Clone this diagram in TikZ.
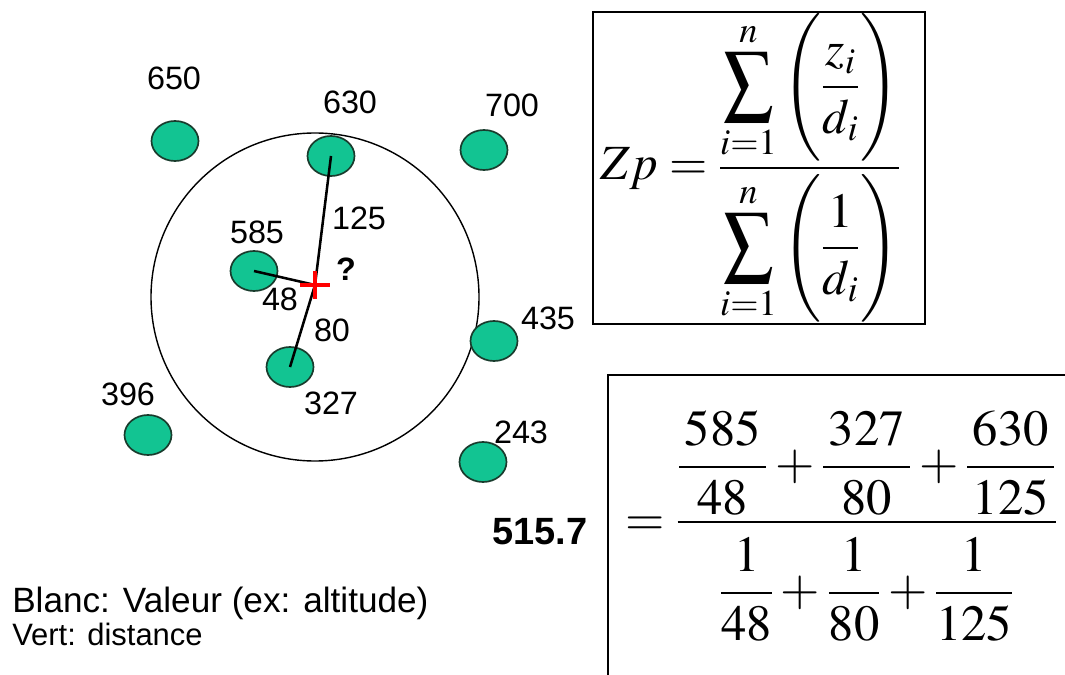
\documentclass[tikz,border=0pt]{standalone}
\usepackage{amsmath}
\usepackage{graphicx}
\usepackage{mathptmx}
\usepackage[no-math]{fontspec}
\setmainfont{Liberation Serif}
\setsansfont{Liberation Sans}
\usepackage{tikz}
\usetikzlibrary{shapes.geometric}

\definecolor{ptvert}{RGB}{18,196,146}
\definecolor{ptbord}{RGB}{25,60,45}

\newcommand{\grsum}{\mathop{\vcenter{\hbox{\scalebox{1}[1.15]{$\displaystyle\sum$}}}}\limits_{i=1}^{n}}
\newcommand{\pfrac}[2]{\dfrac{\mkern2mu#1\mkern2mu}{#2}}

\tikzset{
  pt/.style={ellipse,draw=ptbord,line width=1.2pt,fill=ptvert,minimum width=47*0.025cm,minimum height=40*0.025cm,inner sep=0pt},
  val/.style={font=\fontsize{23}{26}\selectfont\sffamily,inner sep=0pt},
  seg/.style={line width=1.8pt},
}

\begin{document}
\begin{tikzpicture}[x=0.025cm,y=-0.025cm]
  \useasboundingbox (0,0) rectangle (1065,675);
  % zone de recherche
  \draw[line width=1pt] (315,297) circle (164);
  % points connus
  \node[pt] (p650) at (175,141) {};
  \node[pt] (p630) at (331,156) {};
  \node[pt] (p700) at (484,150) {};
  \node[pt] (p585) at (254,271) {};
  \node[pt] (p435) at (494,341) {};
  \node[pt] (p327) at (290,367) {};
  \node[pt] (p396) at (148,435) {};
  \node[pt] (p243) at (483,462) {};
  \node[val] at (174,78) {650};
  \node[val] at (350,102) {630};
  \node[val] at (512,105) {700};
  \node[val] at (257,232) {585};
  \node[val] at (548,318) {435};
  \node[val] at (331,403) {327};
  \node[val] at (128,394) {396};
  \node[val] at (521,432) {243};
  % point inconnu
  \coordinate (q) at (315,285);
  \draw[seg] (p630.center) -- (q);
  \draw[seg] (p327.center) -- (q);
  \draw[seg] (p585.center) -- (q);
  \draw[red,line width=3.5pt] ([xshift=-15*0.025cm]q) -- ([xshift=15*0.025cm]q);
  \draw[red,line width=3.5pt] ([yshift=14*0.025cm]q) -- ([yshift=-14*0.025cm]q);
  \node[val] at (359,218) {125};
  \node[val,font=\fontsize{23}{26}\selectfont\sffamily\bfseries] at (346,269) {?};
  \node[val] at (280,299) {48};
  \node[val] at (332,330) {80};
  % formules
  \draw[line width=1pt] (593,12) rectangle (925,324);
  \node[inner sep=0pt,anchor=base west,font=\fontsize{35}{42}\selectfont] (f1) at (600,180)
    {$\displaystyle Zp=\dfrac{\grsum\left(\rule[-1.15em]{0pt}{2.8em}\dfrac{z_i}{d_i}\right)}{\grsum\left(\rule[-1.15em]{0pt}{2.8em}\dfrac{1}{d_i}\right)}$};
  \draw[line width=1pt] (1070,375) -- (608,375) -- (608,680);
  \node[inner sep=0pt,font=\fontsize{27}{30}\selectfont\sffamily\bfseries] (res) at (540,532) {515.7};
  \node[inner sep=0pt,font=\fontsize{36}{42}\selectfont,anchor=base west] (f2) at (625,535)
    {$\displaystyle =\dfrac{\pfrac{585}{48}+\pfrac{327}{80}+\pfrac{630}{125}}{\rule{0pt}{1.5em}\pfrac{1}{48}+\pfrac{1}{80}+\pfrac{1}{125}}$};
  % legende
  \node[val,anchor=west,font=\fontsize{25}{28}\selectfont\sffamily] at (12,603) {Blanc: Valeur (ex: altitude)};
  \node[val,anchor=west,font=\fontsize{22}{26}\selectfont\sffamily] at (12,634) {Vert: distance};
\end{tikzpicture}
\end{document}
